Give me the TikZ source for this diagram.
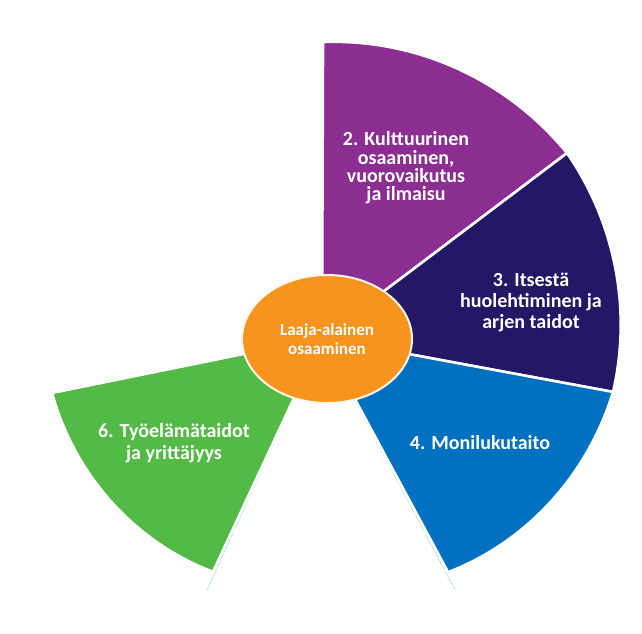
\documentclass[tikz,border=0pt]{standalone}
\usepackage{fontspec}
\setmainfont{Carlito}
\usetikzlibrary{shapes.geometric}
\definecolor{secpurple}{HTML}{8C2D91}
\definecolor{secnavy}{HTML}{231866}
\definecolor{secblue}{HTML}{0070C0}
\definecolor{secgreen}{HTML}{52BA45}
\definecolor{huborange}{HTML}{F7941D}
\definecolor{hubrim}{HTML}{FFF6E8}
\definecolor{shadowline}{HTML}{BFE3EE}
% #1 colour, #2 start angle, #3 start radius, #4 end angle, #5 end radius
\newcommand\sectorfill[5]{%
  \filldraw[sectorstyle, fill=#1] (322,338) --
    plot[domain=#2:#4, samples=60]
      ({322+((#3)+((#5)-(#3))*(\x-(#2))/((#4)-(#2)))*cos(\x)},
       {338-((#3)+((#5)-(#3))*(\x-(#2))/((#4)-(#2)))*sin(\x)}) -- cycle;}
\begin{document}
\begin{tikzpicture}[x=1pt,y=-1pt,
  sectorstyle/.style={draw=white, line width=2.6pt, line join=round},
  sectext/.style={text=white, align=center, inner sep=0pt,
    font=\bfseries\fontsize{20}{21}\selectfont},
  hub/.style={ellipse, fill=huborange, draw=hubrim, line width=2pt,
    minimum width=170pt, minimum height=128pt, inner sep=0pt,
    text=white, align=center, font=\bfseries\fontsize{17}{18.5}\selectfont}]
\useasboundingbox (0,0) rectangle (642,633);
\fill[white] (0,0) rectangle (642,633);
% faint shadow edges below the lower sectors
\draw[shadowline, line width=0.8pt] (322,338) -- (455,590);
\draw[shadowline, line width=0.8pt] (322,338) -- (207,590);
% sectors
\sectorfill{secpurple}{89.8}{296}{37.05}{307}
\sectorfill{secnavy}{37.05}{307}{-10.5}{296}
\sectorfill{secblue}{-10.5}{296}{-61.7}{266}
\sectorfill{secgreen}{-115.0}{258}{-168.5}{275.5}
% centre
\node[hub] (hubnode) at (327,339) {Laaja-alainen\\osaaminen};
% labels
\node[sectext, font=\bfseries\fontsize{20}{18.3}\selectfont] (t2) at (406,168)
  {2. Kulttuurinen\\osaaminen,\\vuorovaikutus\\ja ilmaisu};
\node[sectext] (t3) at (531,302) {3. Itsestä\\huolehtiminen ja\\arjen taidot};
\node[sectext] (t4) at (480,443) {4. Monilukutaito};
\node[sectext, font=\bfseries\fontsize{20}{21.5}\selectfont] (t6) at (174,443)
  {6. Työelämätaidot\\ja yrittäjyys};
\end{tikzpicture}
\end{document}
